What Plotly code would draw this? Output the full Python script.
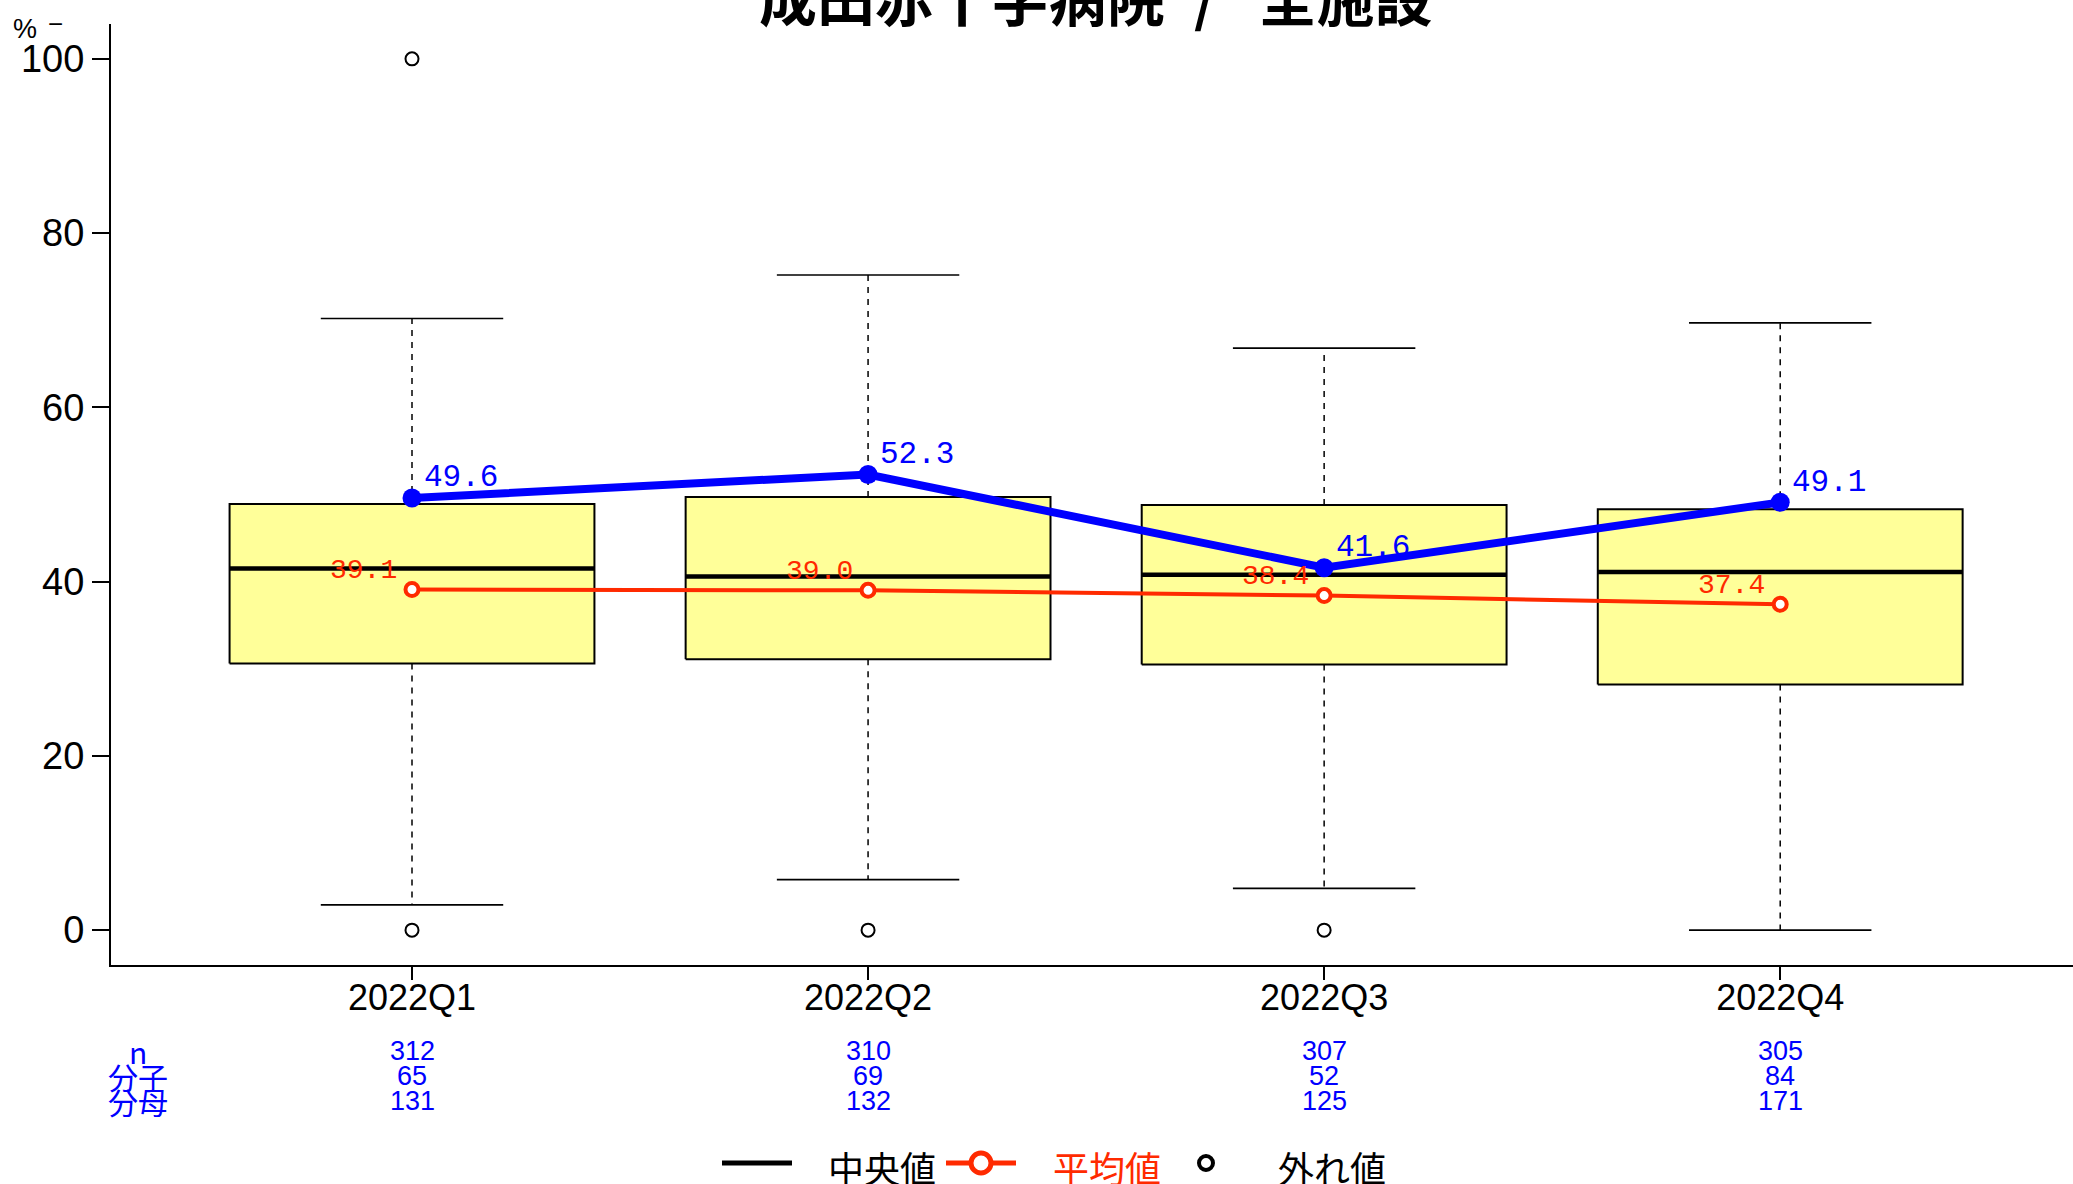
import plotly.graph_objects as go

# ---- data ----
categories = ["2022Q1", "2022Q2", "2022Q3", "2022Q4"]
q1 = [30.6, 31.1, 30.5, 28.2]
median = [41.5, 40.6, 40.8, 41.1]
q3 = [48.9, 49.7, 48.8, 48.3]
lower_whisker = [2.9, 5.8, 4.8, 0.0]
upper_whisker = [70.2, 75.2, 66.8, 69.7]
outliers = [[0, 100], [0], [0], []]
mean_vals = [39.1, 39.0, 38.4, 37.4]
hospital_vals = [49.6, 52.3, 41.6, 49.1]
n_vals = [312, 310, 307, 305]
numerators = [65, 69, 52, 84]
denominators = [131, 132, 125, 171]
row_labels = ["n", "分子", "分母"]
title_text = "成田赤十字病院\u2002/\u2002 全施設"
legend_labels = ["中央値", "平均値", "外れ値"]

# ---- style ----
W, H = 2073, 1184
ML, MR, MT, MB = 111, 0, 24, 219
BOX_HALF = 0.4
CAP_HALF = 0.2
BOX_FILL = "#FFFF99"
RED = "#FF2A00"
BLUE = "#0000FF"
SANS = "Liberation Sans, Arial, sans-serif"
MONO = "Liberation Mono, DejaVu Sans Mono, monospace"
CJK = "Noto Sans CJK JP, Noto Sans, sans-serif"

xpos = list(range(1, len(categories) + 1))
fig = go.Figure()

for i, x in enumerate(xpos):
    # whiskers (dashed)
    fig.add_trace(go.Scatter(x=[x, x, None, x, x], y=[q3[i], upper_whisker[i], None, q1[i], lower_whisker[i]],
                             mode="lines", line=dict(color="black", width=1.5, dash="6px,6px"),
                             hoverinfo="skip", showlegend=False))
    # caps
    fig.add_trace(go.Scatter(x=[x - CAP_HALF, x + CAP_HALF, None, x - CAP_HALF, x + CAP_HALF],
                             y=[upper_whisker[i], upper_whisker[i], None, lower_whisker[i], lower_whisker[i]],
                             mode="lines", line=dict(color="black", width=1.6),
                             hoverinfo="skip", showlegend=False))
    # box
    fig.add_trace(go.Scatter(x=[x - BOX_HALF, x + BOX_HALF, x + BOX_HALF, x - BOX_HALF, x - BOX_HALF],
                             y=[q1[i], q1[i], q3[i], q3[i], q1[i]],
                             mode="lines", fill="toself", fillcolor=BOX_FILL,
                             line=dict(color="black", width=2), hoverinfo="skip", showlegend=False))
    # median
    fig.add_trace(go.Scatter(x=[x - BOX_HALF, x + BOX_HALF], y=[median[i], median[i]],
                             mode="lines", line=dict(color="black", width=4.5),
                             hoverinfo="skip", showlegend=False))
    # outliers
    if outliers[i]:
        fig.add_trace(go.Scatter(x=[x] * len(outliers[i]), y=outliers[i], mode="markers",
                                 marker=dict(symbol="circle-open", size=13, color="black", line=dict(width=2)),
                                 showlegend=False))

# mean line
fig.add_trace(go.Scatter(x=xpos, y=mean_vals, mode="lines+markers",
                         line=dict(color=RED, width=4),
                         marker=dict(symbol="circle", size=13, color="white", line=dict(color=RED, width=4)),
                         showlegend=False))
# hospital line
fig.add_trace(go.Scatter(x=xpos, y=hospital_vals, mode="lines+markers",
                         line=dict(color=BLUE, width=8),
                         marker=dict(symbol="circle", size=19, color=BLUE),
                         showlegend=False))

ann = []
for i, x in enumerate(xpos):
    ann.append(dict(x=x, y=hospital_vals[i], xref="x", yref="y", text=f"{hospital_vals[i]:.1f}",
                    showarrow=False, xanchor="left", yanchor="middle", xshift=10, yshift=20,
                    font=dict(family=MONO, size=31, color=BLUE)))
    ann.append(dict(x=x, y=mean_vals[i], xref="x", yref="y", text=f"{mean_vals[i]:.1f}",
                    showarrow=False, xanchor="right", yanchor="middle", xshift=-13, yshift=19,
                    font=dict(family=MONO, size=28, color=RED)))

def py(pix):
    return (H - MB - pix) / (H - MT - MB)

def px(pix):
    return (pix - ML) / (W - ML - MR)

rows_y = [1051, 1076, 1101]
table = [n_vals, numerators, denominators]
for r, lab in enumerate(row_labels):
    ann.append(dict(x=px(138), y=py(rows_y[r]), xref="paper", yref="paper", text=lab, showarrow=False,
                    xanchor="center", yanchor="middle", font=dict(family=CJK, size=30, color=BLUE)))
    for i, x in enumerate(xpos):
        ann.append(dict(x=x, y=py(rows_y[r]), xref="x", yref="paper", text=str(table[r][i]), showarrow=False,
                        xanchor="center", yanchor="middle", font=dict(family=SANS, size=27, color=BLUE)))

# title
ann.append(dict(x=px(1096), y=1, xref="paper", yref="paper", text="<b>" + title_text + "</b>", showarrow=False,
                xanchor="center", yanchor="middle", yshift=28, font=dict(family=CJK, size=58, color="black")))
# % label
ann.append(dict(x=px(25), y=py(29), xref="paper", yref="paper", text="%", showarrow=False,
                xanchor="center", yanchor="middle", font=dict(family=SANS, size=27, color="black")))
ann.append(dict(x=px(55), y=py(24), xref="paper", yref="paper", text="−", showarrow=False,
                xanchor="center", yanchor="middle", font=dict(family=SANS, size=26, color="black")))

# legend (manual)
ly = py(1163)
shapes = [
    dict(type="line", xref="paper", yref="paper", x0=px(722), x1=px(792), y0=ly, y1=ly,
         line=dict(color="black", width=5)),
    dict(type="line", xref="paper", yref="paper", x0=px(946), x1=px(1016), y0=ly, y1=ly,
         line=dict(color=RED, width=5)),
    dict(type="circle", xref="paper", yref="paper", x0=px(971), x1=px(991), y0=py(1173), y1=py(1153),
         fillcolor="white", line=dict(color=RED, width=5)),
    dict(type="circle", xref="paper", yref="paper", x0=px(1199), x1=px(1213), y0=py(1170), y1=py(1156),
         fillcolor="white", line=dict(color="black", width=4)),
]
leg_text = [(826, legend_labels[0], "black"), (1051, legend_labels[1], RED), (1276, legend_labels[2], "black")]
for xx, t, c in leg_text:
    ann.append(dict(x=px(xx), y=ly, xref="paper", yref="paper", text=t, showarrow=False,
                    xanchor="left", yanchor="middle", yshift=-4, font=dict(family=CJK, size=36, color=c)))

fig.update_layout(
    width=W, height=H,
    margin=dict(l=ML, r=MR, t=MT, b=MB, pad=0),
    paper_bgcolor="white", plot_bgcolor="white",
    showlegend=False,
    annotations=ann, shapes=shapes,
    xaxis=dict(range=[0.34, 4.642], tickmode="array", tickvals=xpos, ticktext=categories,
               showgrid=False, zeroline=False, showline=True, linecolor="black", linewidth=2,
               ticks="outside", ticklen=13, tickwidth=2, tickcolor="black", ticklabelstandoff=-13,
               tickfont=dict(family=SANS, size=36, color="black")),
    yaxis=dict(range=[-4, 104], tickmode="array", tickvals=[0, 20, 40, 60, 80, 100],
               showgrid=False, zeroline=False, showline=True, linecolor="black", linewidth=2,
               ticks="outside", ticklen=17, tickwidth=2, tickcolor="black",
               tickfont=dict(family=SANS, size=38, color="black")),
)

fig.write_html("out.html", config={"displayModeBar": False},
               post_script="document.body.style.margin='0';")
